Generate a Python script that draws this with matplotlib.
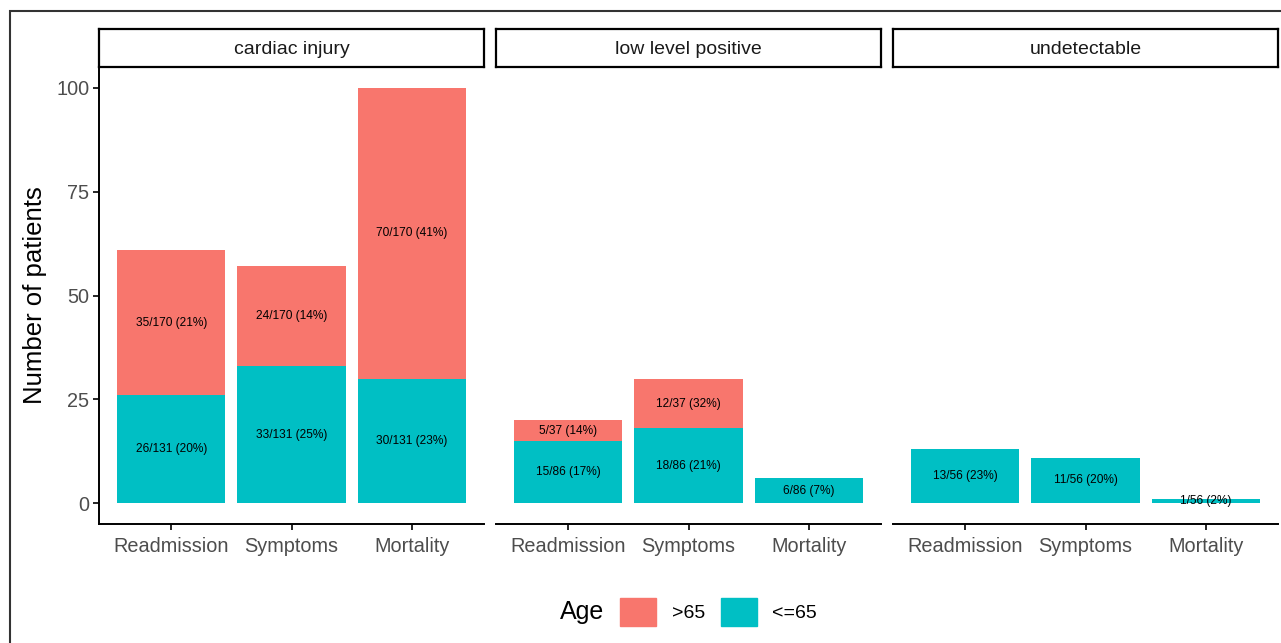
import numpy as np
import matplotlib.pyplot as plt
from matplotlib.patches import Rectangle, Patch

plt.rcParams['font.family'] = ['Liberation Sans', 'DejaVu Sans']

# data
facets = ['cardiac injury', 'low level positive', 'undetectable']
outcomes = ['Readmission', 'Symptoms', 'Mortality']
young = [[26, 33, 30], [15, 18, 6], [13, 11, 1]]      # <=65
old = [[35, 24, 70], [5, 12, 0], [0, 0, 0]]           # >65
young_labels = [['26/131 (20%)', '33/131 (25%)', '30/131 (23%)'],
                ['15/86 (17%)', '18/86 (21%)', '6/86 (7%)'],
                ['13/56 (23%)', '11/56 (20%)', '1/56 (2%)']]
old_labels = [['35/170 (21%)', '24/170 (14%)', '70/170 (41%)'],
              ['5/37 (14%)', '12/37 (32%)', ''],
              ['', '', '']]

red = '#F8766D'
teal = '#00BFC4'

W, H = 1281, 643
fig = plt.figure(figsize=(W / 100, H / 100), dpi=100)

# outer frame (cropped on right and bottom)
fig.patches.append(Rectangle((9.5 / W, -0.1), 1.2, 1.1 - 10.5 / H, transform=fig.transFigure,
                             fill=False, edgecolor='#333333', linewidth=1.5))

panel_left = [99, 496, 893]
panel_w = 385
top_px, bottom_px = 67, 524
strip_top = 29

for i, name in enumerate(facets):
    l = panel_left[i] / W
    w = panel_w / W
    b = 1 - bottom_px / H
    h = (bottom_px - top_px) / H
    ax = fig.add_axes([l, b, w, h])
    x = np.arange(len(outcomes))
    ax.bar(x, young[i], 0.9, color=teal, label='<=65')
    ax.bar(x, old[i], 0.9, bottom=young[i], color=red, label='>65')
    for j in range(len(outcomes)):
        ax.text(j, young[i][j] / 2, young_labels[i][j], ha='center', va='center', fontsize=8.6)
        if old[i][j] > 0:
            ax.text(j, young[i][j] + old[i][j] / 2, old_labels[i][j], ha='center', va='center', fontsize=8.6)
    ax.set_xlim(-0.6, 2.6)
    ax.set_ylim(-5, 105)
    ax.set_xticks(x)
    ax.set_xticklabels(outcomes, fontsize=14.3, color='#4D4D4D')
    ax.spines['top'].set_visible(False)
    ax.spines['right'].set_visible(False)
    ax.spines['bottom'].set_linewidth(1.4)
    ax.tick_params(axis='x', length=4, width=1.2, pad=5)
    if i == 0:
        ax.set_yticks([0, 25, 50, 75, 100])
        ax.tick_params(axis='y', labelsize=14.3, labelcolor='#4D4D4D', length=4, width=1.2, pad=3)
        ax.spines['left'].set_linewidth(1.4)
    else:
        ax.set_yticks([])
        ax.spines['left'].set_visible(False)

    # facet strip
    sax = fig.add_axes([l, 1 - top_px / H, w, (top_px - strip_top) / H])
    sax.set_xticks([])
    sax.set_yticks([])
    for s in sax.spines.values():
        s.set_linewidth(1.6)
    sax.text(0.5, 0.45, name, ha='center', va='center', fontsize=14, color='#1A1A1A',
             transform=sax.transAxes)

fig.text(35 / W, 1 - 295 / H, 'Number of patients', rotation=90, ha='center', va='center', fontsize=18.5)

# legend at bottom
handles = [Patch(color=red), Patch(color=teal)]
fig.text(560 / W, 1 - 612 / H, 'Age', ha='left', va='center', fontsize=18)
fig.legend(handles, ['>65', '<=65'], loc='center left', bbox_to_anchor=(620 / W, 1 - 612 / H),
           ncol=2, frameon=False, fontsize=14, handlelength=1.86, handleheight=1.86,
           handletextpad=0.8, columnspacing=0.8, borderpad=0, borderaxespad=0)

fig.savefig('out.png', dpi=100)
